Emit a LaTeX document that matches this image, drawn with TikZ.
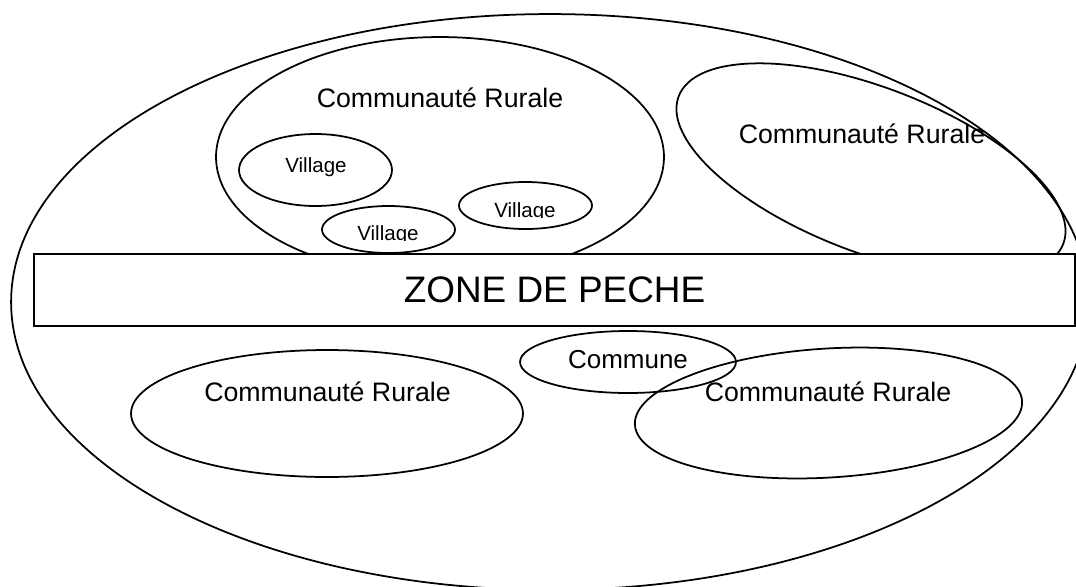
\documentclass[tikz,border=0pt]{standalone}
\usepackage{fontspec}
\setmainfont{Liberation Sans}
\usetikzlibrary{shapes.geometric}

\begin{document}
\begin{tikzpicture}[x=0.02cm, y=-0.02cm, line width=1pt,
    oval/.style={draw, ellipse, inner sep=0pt},
    crtext/.style={anchor=base, font=\fontsize{15.2}{18}\selectfont},
    vtext/.style={anchor=base, font=\fontsize{11.7}{14}\selectfont},
    zonebox/.style={draw, fill=white, line width=1.2pt, rectangle, inner sep=0pt,
      minimum width=20.82cm, minimum height=1.44cm,
      font=\fontsize{21}{26}\selectfont}]
    \useasboundingbox (0,0) rectangle (1076,586);
    \clip (0,0) rectangle (1076,586);
    % outer region
    \node[oval, minimum width=21.56cm, minimum height=11.52cm] (region) at (550,302) {};
    % rural communities above the fishing zone
    \node[oval, minimum width=8.96cm, minimum height=4.8cm] (crNorth) at (440,157) {};
    \node[crtext] (crNorthText) at (440,107) {Communauté Rurale};
    \node[oval, minimum width=8.24cm, minimum height=3.3cm, rotate=-21] (crEast) at (871,170) {};
    \node[crtext] (crEastText) at (862,143) {Communauté Rurale};
    % villages
    \node[oval, minimum width=3.06cm, minimum height=1.44cm] (villageA) at (315.5,170) {};
    \node[vtext] (villageAText) at (316,172) {Village};
    \node[oval, minimum width=2.66cm, minimum height=0.94cm] (villageB) at (388.5,229.5) {};
    \node[oval, minimum width=2.66cm, minimum height=0.94cm] (villageC) at (525.5,205.5) {};
    \begin{scope}
      \clip (340,215) rectangle (440,240);
      \node[vtext] (villageBText) at (388,240) {Village};
    \end{scope}
    \begin{scope}
      \clip (480,190) rectangle (575,217);
      \node[vtext] (villageCText) at (525,217) {Village};
    \end{scope}
    % fishing zone
    \node[zonebox] (zone) at (554.5,290) {ZONE DE PECHE};
    % below the fishing zone
    \node[oval, minimum width=4.32cm, minimum height=1.24cm] (commune) at (628,362) {};
    \node[crtext, font=\fontsize{14.8}{18}\selectfont] (communeText) at (628,368) {Commune};
    \node[oval, minimum width=7.84cm, minimum height=2.54cm] (crWest) at (327,413.5) {};
    \node[crtext] (crWestText) at (327.5,401) {Communauté Rurale};
    \node[oval, minimum width=7.76cm, minimum height=2.58cm, rotate=3.5] (crSouth) at (828.5,413) {};
    \node[crtext] (crSouthText) at (828,401) {Communauté Rurale};
\end{tikzpicture}
\end{document}
